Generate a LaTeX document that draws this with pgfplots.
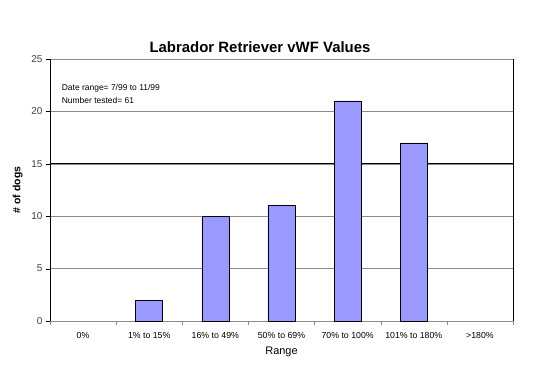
\documentclass[border=0pt]{standalone}
\usepackage{fontspec}
\setmainfont{Liberation Sans}
\usepackage{pgfplots}
\pgfplotsset{compat=1.18}
\definecolor{barfill}{HTML}{9999FF}
\definecolor{gridgray}{HTML}{8C8C8C}
\begin{document}
\begin{tikzpicture}[x=1bp,y=1bp]
\path[use as bounding box] (0,0) rectangle (540,369);
\begin{axis}[
  at={(50bp,48bp)}, anchor=south west,
  scale only axis, width=463bp, height=262bp,
  xmin=-0.5, xmax=6.5, ymin=0, ymax=25,
  /pgf/number format/assume math mode=true,
  xtick={0,...,6},
  xticklabels={0\%,1\% to 15\%,16\% to 49\%,50\% to 69\%,70\% to 100\%,101\% to 180\%,>180\%},
  major x tick style={draw=none},
  minor xtick={-0.5,0.5,...,6.5},
  minor x tick style={gridgray},
  minor tick length=4bp,
  xtick pos=bottom, ytick pos=left,
  ytick={0,5,...,25},
  major y tick style={black},
  major tick length=4bp,
  tick align=outside,
  ymajorgrids, grid style={gridgray, line width=0.6pt},
  extra y ticks={15}, extra y tick labels={}, extra y tick style={grid style={black, line width=0.8pt}},
  axis line style={gridgray},
  separate axis lines,
  y axis line style={black, line width=0.8pt},
  xticklabel style={font=\fontsize{8.8}{9}\selectfont, yshift=-4bp},
  yticklabel style={font=\fontsize{10}{11}\selectfont, text=black!75},
  xlabel={Range}, xlabel style={font=\fontsize{11}{12}\selectfont, yshift=-1bp},
  ylabel={\textbf{\# of dogs}}, ylabel style={font=\fontsize{10.5}{11}\selectfont, yshift=-6bp},
  ybar, bar width=0.41,
  clip=false,
]
\addplot[fill=barfill, draw=black, line width=0.6pt] coordinates {(1,2) (2,10) (3,11) (4,21) (5,17)};
\node[anchor=north west, align=left, font=\fontsize{8.5}{13}\selectfont] at (rel axis cs:0.018,0.915) {Date range= 7/99 to 11/99\\Number tested= 61};
\end{axis}
\node[font=\fontsize{15}{16}\selectfont\bfseries] at (260,322) {Labrador Retriever vWF Values};
\end{tikzpicture}
\end{document}
